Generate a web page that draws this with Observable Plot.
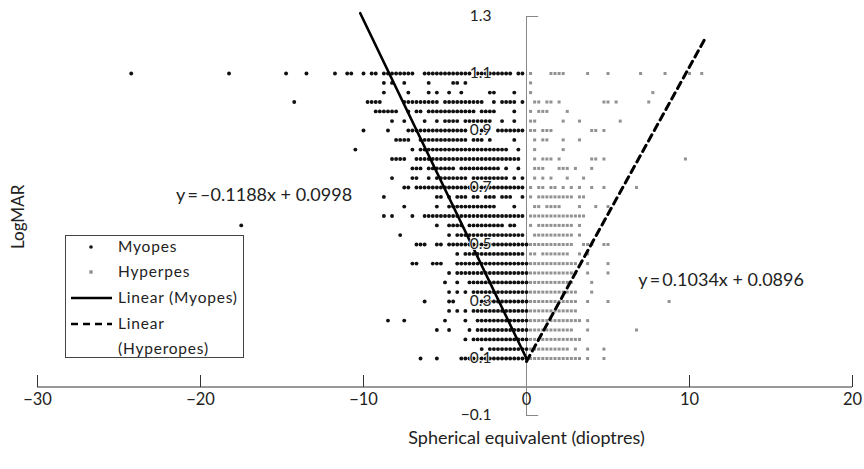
<!DOCTYPE html>
<html><head><meta charset="utf-8">
<script src="https://cdn.jsdelivr.net/npm/d3@7"></script>
<script src="https://cdn.jsdelivr.net/npm/@observablehq/plot@0.6"></script>
<style>
body{margin:0;background:#fff;}
#chart{width:864px;height:469px;}
#chart svg{display:block;}
</style>
</head><body><div id="chart"></div>
<script>
// LogMAR levels of the rows (bottom to top)
const logmarLevels = [0.100,0.133,0.167,0.200,0.233,0.267,0.300,0.333,0.367,0.400,0.433,0.467,0.500,0.533,0.567,0.600,0.633,0.667,0.700,0.733,0.767,0.800,0.833,0.867,0.900,0.933,0.967,1.000,1.033,1.067,1.100];

// Spherical equivalent in quarter dioptres, one list per LogMAR row (same order as logmarLevels)
const myopesQ = [
[-26,-22,-16,-15,-14,-13,-12,-11,-10,-9,-8,-7,-6,-5,-4,-3,-2,-1,0],
[-11,-9,-8,-7,-6,-5,-4,-3,-2,-1,0],
[-15,-13,-12,-11,-10,-9,-8,-7,-6,-5,-4,-3,-2,-1,0],
[-22,-19,-14,-12,-11,-10,-9,-8,-7,-6,-5,-4,-3,-2,-1,0],
[-34,-30,-20,-15,-12,-11,-10,-9,-8,-7,-6,-5,-4,-3,-2,-1,0],
[-19,-17,-15,-13,-12,-11,-10,-9,-8,-7,-6,-5,-4,-3,-2,-1,0],
[-25,-19,-18,-11,-10,-9,-8,-7,-6,-5,-4,-3,-2,-1,0],
[-19,-17,-15,-13,-12,-11,-10,-9,-8,-7,-6,-5,-4,-3,-2,-1,0],
[-20,-17,-14,-13,-12,-11,-10,-9,-8,-7,-6,-5,-4,-3,-2,-1,0],
[-19,-17,-16,-15,-14,-13,-12,-11,-10,-9,-8,-7,-6,-5,-4,-3,-2,-1,0],
[-28,-27,-23,-22,-21,-17,-16,-15,-14,-13,-12,-11,-10,-9,-8,-7,-6,-5,-4,-3,-2,-1,0],
[-17,-15,-14,-13,-12,-11,-10,-9,-8,-7,-6,-5,-4,-3,-2,-1],
[-27,-26,-25,-22,-21,-19,-18,-17,-16,-15,-14,-13,-12,-11,-10,-9,-8,-7,-6,-5,-4,-3,-2,-1,0],
[-31,-19,-17,-16,-15,-14,-13,-12,-11,-10,-9,-8,-7,-6,-5,-4,-3,-2,-1],
[-70,-22,-19,-18,-17,-16,-14,-13,-12,-11,-10,-9,-8,-7,-6,-4,-3],
[-35,-33,-28,-25,-24,-23,-22,-21,-20,-19,-18,-17,-16,-15,-14,-13,-12,-11,-10,-9,-8,-7,-6,-5,-4,-3,-2,-1],
[-30,-22,-19,-18,-17,-16,-15,-14,-13,-12,-11,-10,-9,-8,-3],
[-35,-22,-21,-19,-17,-16,-15,-13,-12,-10,-9,-8,-6,-5,-4,-1],
[-30,-29,-27,-26,-25,-24,-23,-22,-21,-20,-19,-18,-17,-16,-15,-14,-13,-12,-11,-10,-9,-8,-7,-6,-5,-4,-3,-2,-1],
[-33,-28,-27,-24,-22,-21,-20,-19,-18,-17,-16,-15,-13,-12,-11,-10,-9,-8,-7,-6,-5,-3,-1],
[-28,-27,-26,-24,-23,-22,-21,-20,-19,-18,-16,-15,-14,-13,-12,-11,-10,-9,-8,-7,-5,-2],
[-33,-32,-31,-30,-27,-26,-25,-24,-23,-22,-21,-20,-19,-18,-17,-16,-15,-14,-13,-12,-11,-10,-9,-8,-7,-6,-5,-4,-3,-2],
[-42,-28,-26,-25,-24,-23,-22,-21,-20,-19,-18,-17,-16,-15,-14,-13,-12,-11,-10,-9,-8,-7,-6,-5,-2],
[-32,-31,-30,-29,-26,-25,-24,-23,-22,-21,-20,-19,-18,-17,-16,-15,-13,-12,-11,-9,-3],
[-40,-34,-29,-28,-27,-26,-25,-24,-23,-22,-21,-20,-19,-18,-17,-16,-15,-11,-10,-7,-6,-5,-4,-3,-2,-1],
[-33,-30,-25,-22,-20,-19,-18,-17,-15,-14,-13,-12,-11,-10,-9,-6,-3],
[-37,-36,-35,-34,-33,-32,-29,-27,-26,-24,-23,-22,-21,-20,-19,-18,-17,-16,-15,-14,-13,-11,-10,-9,-8,-3],
[-57,-39,-38,-37,-36,-30,-29,-28,-27,-26,-25,-24,-23,-22,-20,-19,-18,-17,-16,-15,-14,-13,-12,-11,-8,-6,-5,-4,-3,-1],
[-35,-29,-24,-22,-19,-16,-9,-8,-3],
[-35,-33,-30,-24,-18,-17,-15],
[-97,-73,-59,-54,-47,-44,-43,-40,-38,-37,-35,-34,-33,-32,-31,-30,-29,-28,-25,-24,-23,-22,-21,-20,-19,-18,-17,-16,-15,-14,-12,-11,-10,-9,-8,-7,-6,-5,-4,-2,-1]
];

const hyperopesQ = [
[1,2,3,4,5,6,7,8,9,10,11,12,13,15,19],
[1,2,3,4,5,6,7,8,9,10,12,15,19],
[1,2,3,4,5,6,7,8,9,10,11,12,13],
[1,2,3,4,5,6,7,8,9,10,11,15,27],
[1,2,3,4,5,6,7,8,9,10,11,12,13,15],
[1,2,3,4,5,6,7,8,9,10,11,12],
[1,2,3,4,5,6,7,8,9,10,11,12,15,20,35],
[1,2,3,4,5,6,7,8,9,10,11,12,16],
[1,2,3,4,5,6,7,8,9,10,11,16],
[1,2,3,4,5,6,7,8,9,10,11,12,15,20],
[1,2,3,4,5,6,7,8,9,10,11,12,15,20],
[1,2,4,5,6,7,8,9,10,13,15],
[1,2,3,4,5,6,7,8,9,10,11,14,15,16,19,20],
[2,3,4,5,6,7,8,9,10,11,13],
[1,3,4,5,6,7,8,9,10,11,13],
[1,2,3,4,5,6,7,8,9,10,11,12,13,14],
[2,3,5,6,7,8,13,17,20],
[1,3,4,5,6,7,8,9,10,11,13,14],
[1,3,4,6,7,9,11,13,16,19,27],
[2,4,6,10,14],
[2,3,4,8,9,10,12,16],
[2,4,5,6,8,16,17,19,39],
[2,9],
[2,4,5,9,13],
[1,2,4,5,6,16,17,19],
[1,2,9,13,23],
[1,3,4,5,10],
[2,3,5,6,8,19,20,22,30],
[1,31],
[1],
[1,6,7,8,9,15,20,28,34,40,43]
];

const xTicks = [-30, -20, -10, 0, 10, 20];
const yTicks = [-0.1, 0.1, 0.3, 0.5, 0.7, 0.9, 1.1, 1.3];
const fits = [
  {name: "Myopes", slope: -0.1188, intercept: 0.0998, from: -10.2, to: 0},
  {name: "Hyperopes", slope: 0.1034, intercept: 0.0896, from: 0, to: 11}
];
const equationLeft = [{text: "y\u2009=\u2009\u20130.1188x + 0.0998", x: -10.7, y: 0.672}];
const equationRight = [{text: "y\u2009=\u20090.1034x + 0.0896", x: 6.85, y: 0.374}];
const legendLabels = ["Myopes", "Hyperpes", "Linear (Myopes)", "Linear", "(Hyperopes)"];

const myopes = myopesQ.flatMap((row, k) => row.map(q => ({x: q / 4, y: logmarLevels[k]})));
const hyperopes = hyperopesQ.flatMap((row, k) => row.map(q => ({x: q / 4, y: logmarLevels[k]})));
const fitLines = fits.map(f => [f.from, f.to].map(x => ({x, y: f.slope * x + f.intercept})));

const fmt = d => (d < 0 ? "\u2212" : "") + Math.abs(d);
const FONT = "Lato, 'Open Sans', 'DejaVu Sans', sans-serif";
const INK = "#222";

const plot = Plot.plot({
  width: 864, height: 469,
  marginLeft: 37, marginRight: 12, marginTop: 16, marginBottom: 54,
  x: {domain: [-30, 20], axis: null},
  y: {domain: [-0.1, 1.3], axis: null},
  style: {fontFamily: FONT, fontSize: "16px", color: INK, background: "#fff"},
  marks: [
    Plot.ruleY([0], {x1: -30, x2: 20, stroke: "#333", strokeWidth: 1}),
    Plot.tickX(xTicks, {x: d => d, insetTop: 359, insetBottom: 28, stroke: "#333"}),
    Plot.ruleX([0], {y1: -0.1, y2: 1.3, stroke: "#888", strokeWidth: 1}),
    Plot.ruleY([-0.1, 1.3], {x1: 0, x2: 0.75, stroke: "#888", strokeWidth: 1}),
    Plot.dot(hyperopes, {x: "x", y: "y", symbol: "square", r: 1.7, fill: "#929292", stroke: "none"}),
    Plot.dot(myopes, {x: "x", y: "y", r: 1.95, fill: "#111", stroke: "none"}),
    Plot.line(fitLines[0], {x: "x", y: "y", stroke: "#000", strokeWidth: 2.6}),
    Plot.line(fitLines[1], {x: "x", y: "y", stroke: "#000", strokeWidth: 3, strokeDasharray: "7,5"}),
    Plot.text(yTicks, {x: 0, y: d => d, dx: -35, textAnchor: "end", text: fmt, fill: INK, stroke: "#fff", strokeWidth: 1.6, fontSize: 15.5, letterSpacing: "0.5px"}),
    Plot.text(xTicks, {x: d => d, frameAnchor: "bottom", dy: -11, text: fmt, fill: INK, fontSize: 16.5, letterSpacing: "0.5px"}),
    Plot.text(equationLeft, {x: "x", y: "y", text: "text", textAnchor: "end", fill: INK, fontSize: 18, letterSpacing: "2.3px"}),
    Plot.text(equationRight, {x: "x", y: "y", text: "text", textAnchor: "start", fill: INK, fontSize: 18, letterSpacing: "2.3px"}),
    Plot.text(["Spherical equivalent (dioptres)"], {x: 0, frameAnchor: "bottom", dy: 28, fill: INK, fontSize: 18, letterSpacing: "2.4px"}),
    Plot.text(["LogMAR"], {frameAnchor: "left", dx: -19, dy: 33, rotate: -90, fill: INK, fontSize: 17, letterSpacing: "1px"})
  ]
});
document.getElementById("chart").append(plot);

// Legend box
const svg = d3.select(plot);
const lg = svg.append("g").attr("font-family", FONT).attr("font-size", 15.5).attr("letter-spacing", "0.8px").attr("fill", INK).attr("text-anchor", "start");
lg.append("rect").attr("x", 65.5).attr("y", 235.5).attr("width", 178).attr("height", 122)
  .attr("fill", "#fff").attr("stroke", "#444").attr("stroke-width", 1);
const rowsY = [247, 272, 298, 324, 349];
lg.append("circle").attr("cx", 91).attr("cy", rowsY[0]).attr("r", 1.8).attr("fill", "#111");
lg.append("rect").attr("x", 89.3).attr("y", rowsY[1] - 1.7).attr("width", 3.4).attr("height", 3.4).attr("fill", "#929292");
lg.append("line").attr("x1", 71).attr("x2", 112).attr("y1", rowsY[2]).attr("y2", rowsY[2]).attr("stroke", "#000").attr("stroke-width", 2.4);
lg.append("line").attr("x1", 71).attr("x2", 112).attr("y1", rowsY[3]).attr("y2", rowsY[3]).attr("stroke", "#000").attr("stroke-width", 2.6).attr("stroke-dasharray", "7,5");
legendLabels.forEach((t, i) => {
  lg.append("text").attr("x", 118).attr("y", rowsY[i]).attr("dy", "0.35em").attr("text-anchor", "start").text(t);
});
</script>
</body></html>
